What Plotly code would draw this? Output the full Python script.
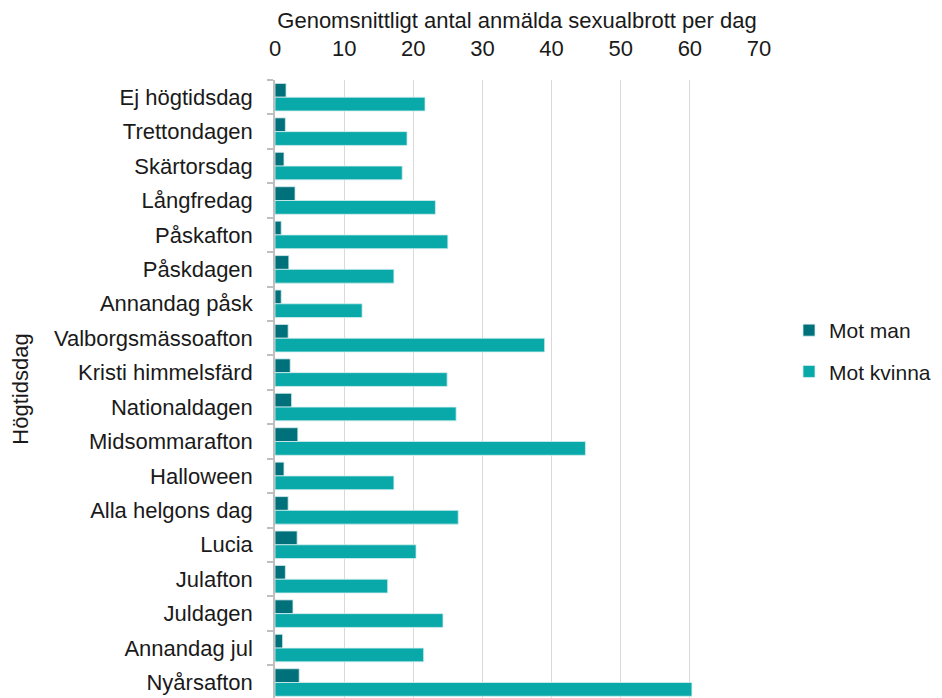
import plotly.graph_objects as go

categories = ["Ej högtidsdag", "Trettondagen", "Skärtorsdag", "Långfredag", "Påskafton",
              "Påskdagen", "Annandag påsk", "Valborgsmässoafton", "Kristi himmelsfärd",
              "Nationaldagen", "Midsommarafton", "Halloween", "Alla helgons dag", "Lucia",
              "Julafton", "Juldagen", "Annandag jul", "Nyårsafton"]
mot_man = [1.6, 1.5, 1.3, 2.9, 0.9, 2.0, 0.9, 1.9, 2.2, 2.4, 3.3, 1.3, 1.9, 3.2, 1.5, 2.6, 1.1, 3.5]
mot_kvinna = [21.7, 19.1, 18.4, 23.2, 25.0, 17.2, 12.6, 39.0, 24.9, 26.2, 44.9, 17.2, 26.5, 20.4,
              16.3, 24.3, 21.5, 60.3]
x_ticks = [0, 10, 20, 30, 40, 50, 60, 70]

font = "Liberation Sans, Arial, sans-serif"
fs = 22

fig = go.Figure()
fig.add_trace(go.Bar(y=categories, x=mot_man, name="Mot man", orientation="h",
                     marker=dict(color="#00707a", line=dict(color="#d6eeee", width=0.8)),
                     legendgroup="a"))
fig.add_trace(go.Bar(y=categories, x=mot_kvinna, name="Mot kvinna", orientation="h",
                     marker=dict(color="#0aa9a9", line=dict(color="#d6eeee", width=0.8)),
                     legendgroup="b"))

fig.update_layout(
    width=934, height=690,
    margin=dict(l=267, r=183, t=72, b=0, autoexpand=False),
    paper_bgcolor="white", plot_bgcolor="white",
    barmode="group", bargap=0.2, bargroupgap=0,
    font=dict(family=font, size=fs, color="#1a1a1a"),
    showlegend=True,
    legend=dict(x=1.062, y=0.5615, xanchor="left", yanchor="middle",
                traceorder="grouped", tracegroupgap=11,
                font=dict(size=21), bgcolor="rgba(0,0,0,0)"),
    xaxis=dict(side="top", range=[0, 70], tickvals=x_ticks, showgrid=True,
               gridcolor="#d9d9d9", gridwidth=1, zeroline=False, showline=False,
               ticks="", tickfont=dict(size=fs), automargin=False, ticklabelstandoff=19,
               title=dict(text="Genomsnittligt antal anmälda sexualbrott per dag",
                          font=dict(size=fs), standoff=5)),
    yaxis=dict(autorange=False, range=[17.45, -0.5], type="category",
               showline=True, linecolor="#bfbfbf", linewidth=1.5,
               ticks="outside", tickson="boundaries", ticklen=6, tickcolor="#bfbfbf",
               tickwidth=1.5, tickfont=dict(size=fs), ticklabelstandoff=16,
               showgrid=False, automargin=False,
               title=dict(text="Högtidsdag", font=dict(size=fs), standoff=38)),
)

fig.write_html("out.html")
